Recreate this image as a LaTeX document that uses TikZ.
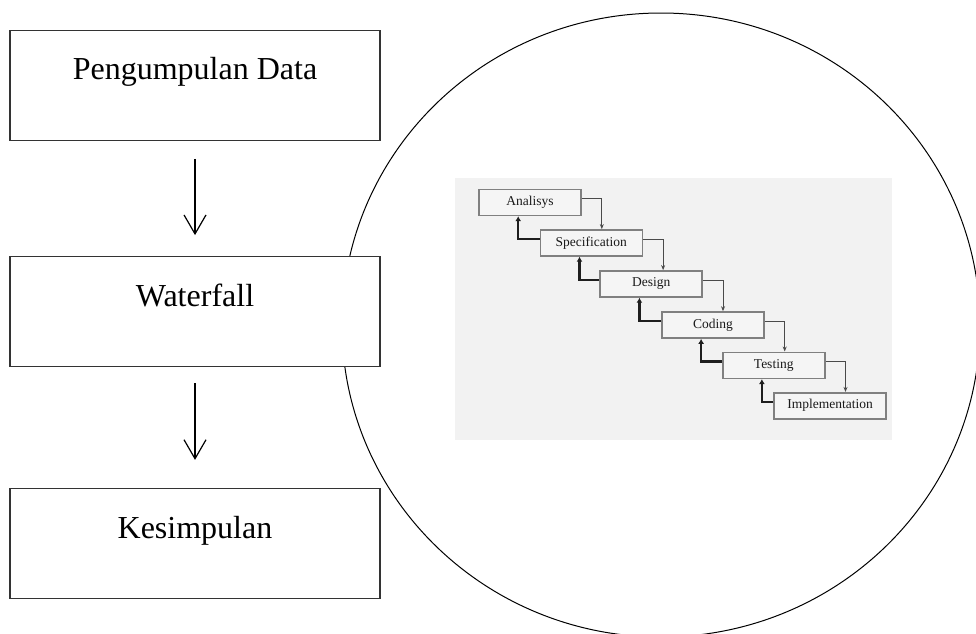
\documentclass[tikz,border=0pt]{standalone}
\usepackage{fontspec}
\setmainfont{Liberation Serif}
\usetikzlibrary{arrows.meta,calc}

\definecolor{panelbg}{HTML}{F2F2F2}
\definecolor{stepfill}{HTML}{F5F5F5}
\definecolor{stepedge}{HTML}{808080}
\definecolor{fwdline}{HTML}{4A4A4A}
\definecolor{backline}{HTML}{1E1E1E}
\definecolor{steptext}{HTML}{1A1A1A}

\tikzset{
  mainbox/.style={draw=black!80, line width=1.2pt, fill=white,
    minimum width=370pt, minimum height=110pt, inner sep=0pt},
  maintext/.style={font=\fontsize{32}{38}\selectfont, inner sep=0pt, anchor=base},
  flowarrow/.style={line width=1.2pt, -{Straight Barb[length=19pt,width=22pt,line width=1.2pt]}},
  stepbox/.style={draw=stepedge, line width=1.6pt, fill=stepfill,
    minimum width=102pt, minimum height=26pt, inner sep=0pt,
    font=\fontsize{13.5}{16}\selectfont, text=steptext},
  fwdarrow/.style={draw=fwdline, line width=1pt,
    -{Stealth[length=5pt,width=4pt]}},
  backarrow/.style={draw=backline, line width=2.4pt,
    -{Latex[length=5pt,width=6pt]}},
}

\begin{document}
\begin{tikzpicture}[x=1pt,y=-1pt]
\useasboundingbox (0,0) rectangle (976,633);
\clip (0,0) rectangle (976,633);

% large round frame behind the waterfall model
\draw[line width=1pt] (661,325) ellipse [x radius=319pt, y radius=312pt];

% waterfall model panel
\fill[panelbg] (455,178) rectangle (892,440);

\node[stepbox] (an) at (530,202.4) {Analisys};
\node[stepbox] (sp) at (591.3,242.9) {Specification};
\node[stepbox] (de) at (651.2,283.9) {Design};
\node[stepbox] (co) at (712.9,325) {Coding};
\node[stepbox] (te) at (773.7,365.3) {Testing};
\node[stepbox, minimum width=112pt] (im) at (830,405.7) {Implementation};

% forward flow between phases and the thick return arrows
\foreach \a/\b in {an/sp, sp/de, de/co, co/te, te/im}{
  \draw[fwdarrow] ([yshift=-10pt]\a.north east) -| ([xshift=20pt]\a.east |- \b.north);
  \draw[backarrow] ([yshift=-10pt]\b.north west) -| ([xshift=40pt]\a.west |- \a.south);
}

% main flow
\node[mainbox] (pd) at (195,85.3) {};
\node[maintext] (pdt) at ([yshift=-50pt]pd.north) {Pengumpulan Data};

\node[mainbox] (wf) at (195,311.7) {};
\node[maintext] (wft) at ([yshift=-50pt]wf.north) {Waterfall};

\node[mainbox] (ks) at (195,543.5) {};
\node[maintext] (kst) at ([yshift=-51pt]ks.north) {Kesimpulan};

\draw[flowarrow] ([yshift=-18pt]pd.south) -- ([yshift=21pt]wf.north);
\draw[flowarrow] ([yshift=-16pt]wf.south) -- ([yshift=28pt]ks.north);
\end{tikzpicture}
\end{document}
